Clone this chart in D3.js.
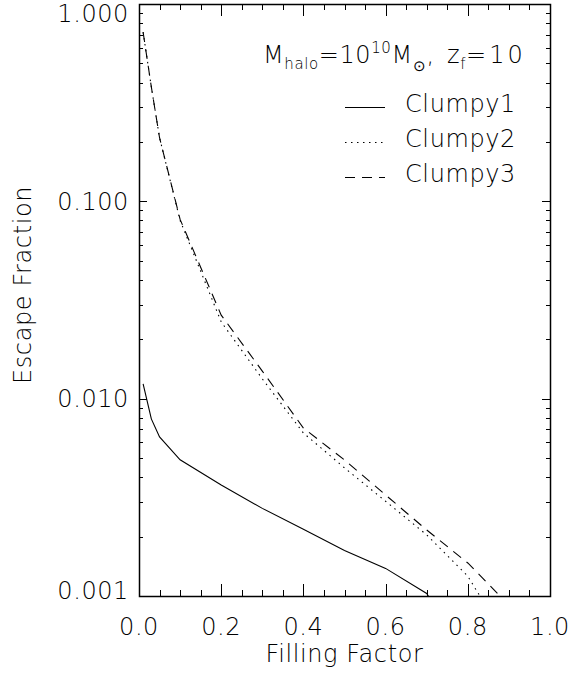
<!DOCTYPE html>
<html>
<head>
<meta charset="utf-8">
<script src="https://cdn.jsdelivr.net/npm/d3@7"></script>
<style>
body { margin: 0; background: #fff; }
svg text { font-family: "DejaVu Sans", sans-serif; font-weight: 200; fill: #000; letter-spacing: 0.6px; }
</style>
</head>
<body>
<svg id="chart"></svg>
<script>
var width = 573, height = 683;
var plotLeft = 139, plotRight = 550, plotTop = 4, plotBottom = 596;

// data
var fill1 = [0.01, 0.03, 0.05, 0.1, 0.2, 0.3, 0.4, 0.5, 0.6, 0.7, 0.75];
var clumpy1 = [0.0119, 0.0079, 0.0064, 0.0049, 0.00365, 0.00278, 0.00218, 0.0017, 0.00138, 0.00103, 0.0007];
var fill2 = [0.01, 0.03, 0.05, 0.1, 0.2, 0.3, 0.4, 0.5, 0.6, 0.7, 0.8, 0.85];
var clumpy2 = [0.72, 0.38, 0.21, 0.08, 0.0245, 0.0126, 0.0067, 0.00446, 0.00302, 0.00204, 0.00126, 0.00085];
var fill3 = [0.01, 0.03, 0.05, 0.1, 0.2, 0.3, 0.4, 0.5, 0.6, 0.7, 0.8, 0.9];
var clumpy3 = [0.72, 0.38, 0.21, 0.081, 0.0265, 0.0138, 0.0071, 0.00489, 0.00325, 0.00216, 0.00147, 0.0009];

var xTickLabels = ["0.0", "0.2", "0.4", "0.6", "0.8", "1.0"];
var yTickLabels = ["0.001", "0.010", "0.100", "1.000"];
var seriesNames = ["Clumpy1", "Clumpy2", "Clumpy3"];
var dashes = [null, "1.5,4.5", "10,7"];

var x = d3.scaleLinear().domain([0, 1]).range([plotLeft, plotRight]);
var y = d3.scaleLog().domain([0.001, 1]).range([plotBottom, plotTop]);

var svg = d3.select("#chart").attr("width", width).attr("height", height);

svg.append("clipPath").attr("id", "clip")
    .append("rect")
    .attr("x", plotLeft).attr("y", plotTop)
    .attr("width", plotRight - plotLeft).attr("height", plotBottom - plotTop);

// ticks
var xMinor = d3.range(0, 1.0001, 0.05).map(function(d) { return +d.toFixed(2); });
var yMinor = [];
[0.001, 0.01, 0.1].forEach(function(dec) {
    for (let k = 1; k < 10; k++) yMinor.push(dec * k);
});
yMinor.push(1);
function isMajorX(d) { return Math.abs(d * 5 - Math.round(d * 5)) < 1e-6; }
function isMajorY(d) { var l = Math.log10(d); return Math.abs(l - Math.round(l)) < 1e-6; }

var gTicks = svg.append("g").attr("stroke", "#000").attr("stroke-width", 1);
xMinor.forEach(function(d) {
    var len = isMajorX(d) ? 12 : 6;
    var px = Math.round(x(d)) + 0.5;
    gTicks.append("line").attr("x1", px).attr("x2", px).attr("y1", plotBottom).attr("y2", plotBottom - len);
    gTicks.append("line").attr("x1", px).attr("x2", px).attr("y1", plotTop).attr("y2", plotTop + len);
});
yMinor.forEach(function(d) {
    var len = isMajorY(d) ? 8 : 4;
    var py = Math.round(y(d)) + 0.5;
    gTicks.append("line").attr("x1", plotLeft).attr("x2", plotLeft + len).attr("y1", py).attr("y2", py);
    gTicks.append("line").attr("x1", plotRight).attr("x2", plotRight - len).attr("y1", py).attr("y2", py);
});

// frame
svg.append("rect")
    .attr("x", plotLeft + 0.5).attr("y", plotTop + 0.5)
    .attr("width", plotRight - plotLeft).attr("height", plotBottom - plotTop)
    .attr("fill", "none").attr("stroke", "#000").attr("stroke-width", 1.5);

// tick labels
svg.append("g").selectAll("text").data(xTickLabels).join("text")
    .attr("x", function(d) { return x(+d); })
    .attr("y", 635)
    .attr("text-anchor", "middle")
    .style("font-size", "24px")
    .text(function(d) { return d; });

svg.append("g").selectAll("text").data(yTickLabels).join("text")
    .attr("x", plotLeft - 10)
    .attr("y", function(d) { return Math.min(Math.max(y(+d), 13), 590) + 8.5; })
    .attr("text-anchor", "end")
    .style("font-size", "24px")
    .text(function(d) { return d; });

// axis titles
svg.append("text")
    .attr("x", (plotLeft + plotRight) / 2).attr("y", 662)
    .attr("text-anchor", "middle").style("font-size", "24px")
    .text("Filling Factor");
svg.append("text")
    .attr("transform", "translate(31,285) rotate(-90)")
    .attr("text-anchor", "middle").style("font-size", "24px")
    .text("Escape Fraction");

// curves
var line = d3.line().x(function(d) { return x(d[0]); }).y(function(d) { return y(d[1]); });
var series = [d3.zip(fill1, clumpy1), d3.zip(fill2, clumpy2), d3.zip(fill3, clumpy3)];
var gLines = svg.append("g").attr("clip-path", "url(#clip)");
series.forEach(function(s, i) {
    gLines.append("path")
        .attr("d", line(s))
        .attr("fill", "none")
        .attr("stroke", "#000")
        .attr("stroke-width", 1.1)
        .attr("stroke-dasharray", dashes[i]);
});

// legend title, flowing pieces with sub/superscripts
var title = svg.append("text").attr("x", 263).attr("y", 63).style("font-size", "24px");
function piece(str, dy, small, px) {
    var t = title.append("tspan").attr("dy", dy).text(str);
    if (small) t.style("font-size", "15px");
    if (px != null) t.attr("x", px);
    return t;
}
piece("M", 0);
piece("halo", 6, true);
piece("=10", -6);
piece("10", -10, true);
piece("M", 10);
piece("\u2299", 8, true);
piece(",", -8);
piece("z", 0, false, 447);
piece("f", 6, true);
piece("=10", -6).style("letter-spacing", "3px");

var gLegend = svg.append("g");
seriesNames.forEach(function(name, i) {
    var by = 112 + i * 35;
    gLegend.append("line")
        .attr("x1", 345).attr("x2", 385)
        .attr("y1", by - 4.5).attr("y2", by - 4.5)
        .attr("stroke", "#000").attr("stroke-width", 1.1)
        .attr("stroke-dasharray", dashes[i]);
    gLegend.append("text")
        .attr("x", 405).attr("y", by)
        .style("font-size", "24px")
        .text(name);
});
</script>
</body>
</html>
